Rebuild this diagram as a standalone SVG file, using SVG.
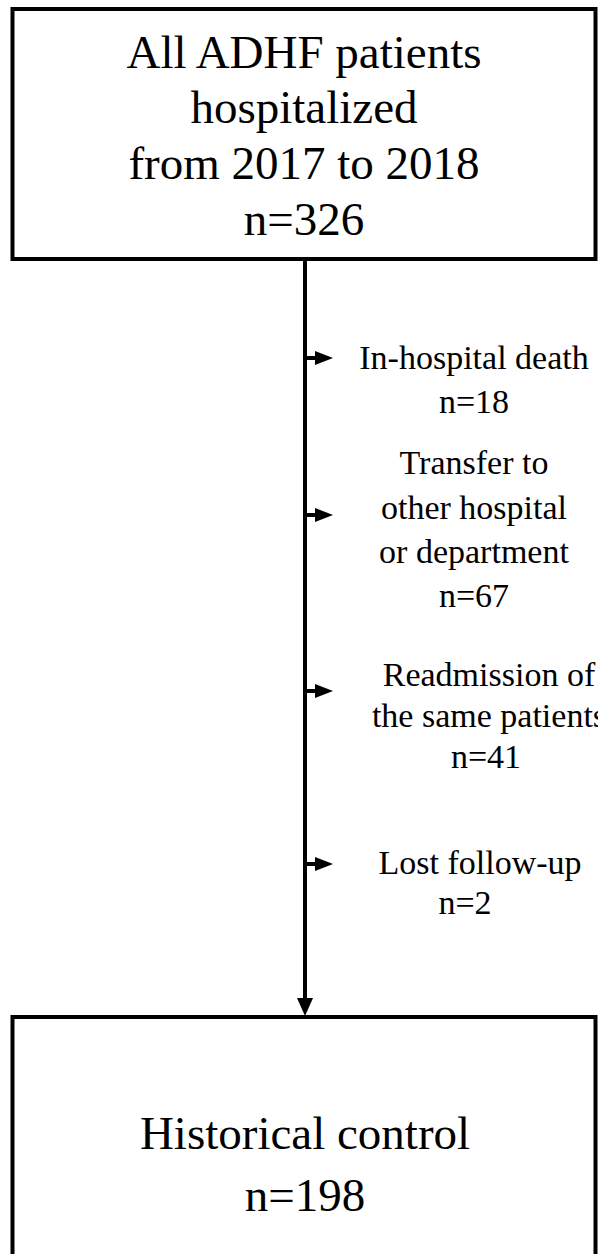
<svg xmlns="http://www.w3.org/2000/svg" width="598" height="1254" viewBox="0 0 598 1254">
<style>
.box{fill:#fff;stroke:#000;stroke-width:4}
.big{font-family:"Liberation Serif","Times New Roman",serif;font-size:47px;fill:#000;text-anchor:middle}
.lab{font-family:"Liberation Serif","Times New Roman",serif;font-size:34px;fill:#000;text-anchor:middle}
.ln{stroke:#000;stroke-width:4;fill:none}
</style>
<rect width="598" height="1254" fill="#fff"/>
<g id="node-start">
<rect class="box" x="12.5" y="9" width="583" height="250"/>
<text class="big" x="304" y="68">All ADHF patients</text>
<text class="big" x="304" y="123">hospitalized</text>
<text class="big" x="304" y="179">from 2017 to 2018</text>
<text class="big" x="304" y="235">n=326</text>
</g>
<g id="node-end">
<rect class="box" x="12.5" y="1017" width="583" height="260"/>
<text class="big" x="305" y="1149">Historical control</text>
<text class="big" x="305" y="1211">n=198</text>
</g>
<g id="connectors">
<line class="ln" x1="305" y1="259" x2="305" y2="1000"/>
<path d="M297,998 L313,998 L305,1016 Z" fill="#000"/>
<line class="ln" x1="303" y1="358" x2="316" y2="358"/>
<path d="M315,351 L333,358 L315,365 Z" fill="#000"/>
<line class="ln" x1="303" y1="515" x2="316" y2="515"/>
<path d="M315,508 L333,515 L315,522 Z" fill="#000"/>
<line class="ln" x1="303" y1="691" x2="316" y2="691"/>
<path d="M315,684 L333,691 L315,698 Z" fill="#000"/>
<line class="ln" x1="303" y1="864" x2="316" y2="864"/>
<path d="M315,857 L333,864 L315,871 Z" fill="#000"/>
</g>
<g id="node-death">
<text class="lab" x="474" y="369">In-hospital death</text>
<text class="lab" x="474" y="413">n=18</text>
</g>
<g id="node-transfer">
<text class="lab" x="474" y="474">Transfer to</text>
<text class="lab" x="474" y="519">other hospital</text>
<text class="lab" x="474" y="563">or department</text>
<text class="lab" x="474" y="607">n=67</text>
</g>
<g id="node-readmission">
<text class="lab" x="489" y="686">Readmission of</text>
<text class="lab" x="489" y="727">the same patients</text>
<text class="lab" x="486" y="768">n=41</text>
</g>
<g id="node-lost">
<text class="lab" x="480" y="874">Lost follow-up</text>
<text class="lab" x="465" y="914">n=2</text>
</g>
</svg>
